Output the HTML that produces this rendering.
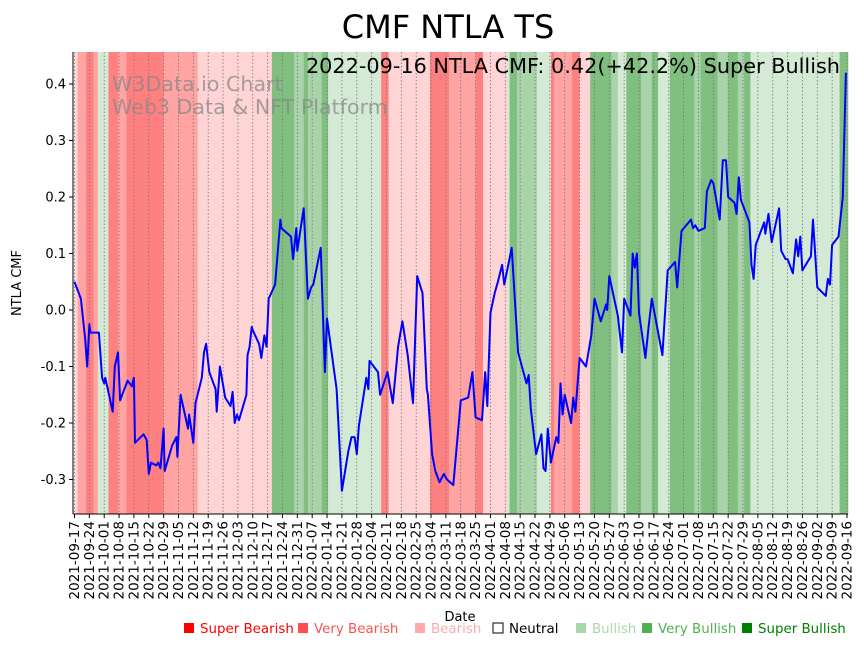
<!DOCTYPE html>
<html><head><meta charset="utf-8"><style>
body{margin:0;background:#fff;}
svg{display:block;font-family:"DejaVu Sans","Liberation Sans",sans-serif;}
</style></head><body>
<svg id="chart" width="864" height="646" viewBox="0 0 864 646" xmlns="http://www.w3.org/2000/svg">
<text x="448" y="38" font-size="32" text-anchor="middle" fill="#000">CMF NTLA TS</text>
<g id="bands"></g>
<g id="grid"></g>
<text x="112" y="91" font-size="20.6" fill="#888" fill-opacity="0.75">W3Data.io Chart</text>
<text x="112" y="114" font-size="20.6" fill="#888" fill-opacity="0.75">Web3 Data &amp; NFT Platform</text>
<g id="line"></g>
<text x="840" y="73" font-size="20.8" text-anchor="end" fill="#000">2022-09-16 NTLA CMF: 0.42(+42.2%) Super Bullish</text>
<g id="axes"></g>
<text x="460" y="621" font-size="13" text-anchor="middle">Date</text>
<text transform="translate(21,283) rotate(-90)" font-size="13" text-anchor="middle">NTLA CMF</text>
<g id="legend"></g>
</svg>
<script>
const bandStarts=[0,1.5,5.5,9,11,16,20.5,24.5,30,42,58,93,103.5,108,110,116.5,119.5,144.5,148,167.5,176.5,189,192.5,204,205,208.5,218,224.5,226,234.5,238,243,253,256,260,267,272,275,280.5,292,295,303,308,312.5,315.5,318.5,360.5,368];
const bandCats=[2,1,0,1,4,0,1,0,0,1,2,6,5,6,5,6,4,0,2,0,1,0,2,4,6,5,4,0,1,0,2,6,5,4,6,5,6,4,6,5,6,5,6,5,6,4,6];
const bandColors=["#ff8080","#ffa3a3","#ffd4d4","#ffffff","#d4ead4","#a9d4a9","#80bf80"];
const days=[0,3,5,6,7,7.5,10,11.5,13,14,14.5,18,19,20.5,21.5,25,27,28,28.5,32.5,34,35,36,38.5,39.5,40.5,42,42.5,46,48,48.5,50,53.5,54,56,57,60,61,62,63.5,66.5,67,68.5,71,73.5,74.5,75.5,76.5,77.5,81,81.5,82.5,83.5,84.5,87,88,89.5,90.5,91.5,94.5,97,97.5,102,103,104.5,105,108,110,111.5,112.5,116,118,119,123.5,126,129,130.5,132,133,134,137.5,138.5,139,143,144,147.5,150,152.5,154.5,157,159.5,161.5,164,166,166.5,168.5,170,171.5,172,174,175.5,178.5,182,185.5,187.5,189,192,193.5,194.5,196,198,199.5,201.5,202.5,206,209,213,214,215,217.5,220,221,222,223,224.5,227,228,229,230,231,234,235,236,238,241,243.5,245,248,250.5,251,252,256,258,259,262,263,264,265,266,269,270.5,272,277,279.5,283,284,286,290.5,291.5,292.5,294,297,298,300,301,304,305.5,307,308,311,312,313,314,318,319,320,321,325,325.5,327,328.5,332,333,335,336,338.5,340,341,342,343,347,348,350,354,355,356,357,360,362,363.5];
const cmf=[0.05,0.02,-0.05,-0.10,-0.025,-0.04,-0.04,-0.04,-0.12,-0.13,-0.12,-0.18,-0.10,-0.075,-0.16,-0.125,-0.135,-0.12,-0.235,-0.22,-0.23,-0.29,-0.27,-0.275,-0.27,-0.28,-0.21,-0.285,-0.24,-0.225,-0.26,-0.15,-0.21,-0.185,-0.235,-0.165,-0.12,-0.075,-0.06,-0.11,-0.14,-0.18,-0.10,-0.155,-0.17,-0.145,-0.20,-0.185,-0.195,-0.15,-0.08,-0.065,-0.03,-0.04,-0.06,-0.085,-0.045,-0.065,0.02,0.045,0.16,0.145,0.13,0.09,0.145,0.105,0.18,0.02,0.04,0.045,0.11,-0.11,-0.015,-0.14,-0.32,-0.25,-0.225,-0.225,-0.255,-0.205,-0.12,-0.14,-0.09,-0.11,-0.15,-0.11,-0.165,-0.065,-0.02,-0.08,-0.165,0.06,0.03,-0.14,-0.15,-0.255,-0.285,-0.30,-0.305,-0.29,-0.30,-0.31,-0.16,-0.155,-0.11,-0.19,-0.195,-0.11,-0.17,-0.005,0.03,0.05,0.08,0.045,0.11,-0.075,-0.13,-0.115,-0.175,-0.255,-0.22,-0.28,-0.285,-0.21,-0.27,-0.225,-0.235,-0.13,-0.185,-0.15,-0.20,-0.155,-0.18,-0.085,-0.10,-0.045,0.02,-0.02,0.01,0.0,0.06,-0.01,-0.075,0.02,-0.01,0.10,0.075,0.10,-0.005,-0.085,-0.03,0.02,-0.08,0.07,0.085,0.04,0.14,0.16,0.145,0.15,0.14,0.145,0.21,0.23,0.225,0.16,0.265,0.265,0.20,0.19,0.17,0.235,0.195,0.155,0.08,0.055,0.115,0.155,0.135,0.17,0.12,0.18,0.105,0.09,0.09,0.065,0.125,0.095,0.13,0.07,0.095,0.16,0.04,0.025,0.055,0.045,0.115,0.13,0.20,0.42];
const yTicks=[-0.3,-0.2,-0.1,0.0,0.1,0.2,0.3,0.4];
const tickLabels=["2021-09-17","2021-09-24","2021-10-01","2021-10-08","2021-10-15","2021-10-22","2021-10-29","2021-11-05","2021-11-12","2021-11-19","2021-11-26","2021-12-03","2021-12-10","2021-12-17","2021-12-24","2021-12-31","2022-01-07","2022-01-14","2022-01-21","2022-01-28","2022-02-04","2022-02-11","2022-02-18","2022-02-25","2022-03-04","2022-03-11","2022-03-18","2022-03-25","2022-04-01","2022-04-08","2022-04-15","2022-04-22","2022-04-29","2022-05-06","2022-05-13","2022-05-20","2022-05-27","2022-06-03","2022-06-10","2022-06-17","2022-06-24","2022-07-01","2022-07-08","2022-07-15","2022-07-22","2022-07-29","2022-08-05","2022-08-12","2022-08-19","2022-08-26","2022-09-02","2022-09-09","2022-09-16"];
const legendNames=["Super Bearish","Very Bearish","Bearish","Neutral","Bullish","Very Bullish","Super Bullish"];
const legendColors=["#ff0000","#ff5050","#ffaaaa","#ffffff","#a8d8a8","#50b050","#008000"];
const legendText=["#ff0000","#ff5050","#ffaaaa","#000000","#a8d8a8","#50b050","#008000"];

const L=73,R=848,T=52,B=514;
const X0=74.5,X1=847,DMAX=364;
const x=d=>X0+(d/DMAX)*(X1-X0);
const y=v=>310-v*565;
const NS="http://www.w3.org/2000/svg";
function mk(t,a,p){const e=document.createElementNS(NS,t);for(const k in a)e.setAttribute(k,a[k]);p.appendChild(e);return e;}

const gb=document.getElementById('bands');
for(let i=0;i<bandCats.length;i++){
  const xa=Math.max(L,x(bandStarts[i])),xb=Math.min(R,x(bandStarts[i+1]));
  if(xb<=xa)continue;
  const r=mk('rect',{x:xa,y:T,width:xb-xa+0.3,height:B-T,fill:bandColors[bandCats[i]]},gb);
  
  
}
const gg=document.getElementById('grid'),ga=document.getElementById('axes');
tickLabels.forEach((lab,i)=>{
  const xx=x(i*7);
  const g=mk('line',{x1:xx,x2:xx,y1:T,y2:B,stroke:'#777','stroke-width':0.8,'stroke-dasharray':'1.5,2'},gg);
  
  
  mk('line',{x1:xx,x2:xx,y1:B,y2:B+4,stroke:'#000','stroke-width':1},ga);
  const t=mk('text',{transform:`translate(${xx+4.5},${B+7}) rotate(-90)`,'font-size':13.5,'text-anchor':'end'},ga);
  t.textContent=lab;
  
  
});
yTicks.forEach(v=>{
  const yy=y(v);
  mk('line',{x1:L-4,x2:L,y1:yy,y2:yy,stroke:'#000','stroke-width':1},ga);
  const t=mk('text',{x:L-7,y:yy+4.5,'font-size':13,'text-anchor':'end'},ga);
  t.textContent=v.toFixed(1);
  
  
});
mk('line',{x1:L,x2:L,y1:T,y2:B,stroke:'#000','stroke-width':1},ga);
mk('line',{x1:L,x2:R,y1:B,y2:B,stroke:'#000','stroke-width':1},ga);

const pts=days.map((d,i)=>x(d).toFixed(1)+','+y(cmf[i]).toFixed(1)).join(' ');
const pl=mk('polyline',{points:pts,fill:'none',stroke:'#0000ff','stroke-width':2,'stroke-linejoin':'round'},document.getElementById('line'));



const gl=document.getElementById('legend');
const lx=[184,298,415,493,576,642,742];
legendNames.forEach((n,i)=>{
  const sq=mk('rect',{x:lx[i],y:623,width:10,height:10,fill:legendColors[i],stroke:i==3?'#000':'none','stroke-width':1},gl);
  
  
  const t=mk('text',{x:lx[i]+16,y:633,'font-size':13.4,fill:legendText[i]},gl);
  t.textContent=n;
  
  
});
</script>
</body></html>
